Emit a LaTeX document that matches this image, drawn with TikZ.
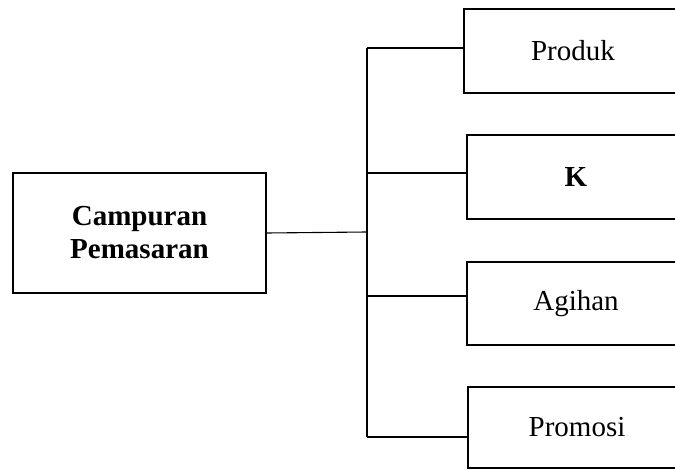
\documentclass[tikz,border=0pt]{standalone}
\usepackage{fontspec}
\setmainfont{Liberation Serif}
\begin{document}
\begin{tikzpicture}[x=1pt,y=-1pt,
  box/.style={draw, line width=1.8pt, rectangle, inner sep=0pt, align=center,
    font=\fontsize{29}{33}\selectfont},
  conn/.style={line width=1.1pt}]
\useasboundingbox (0,0) rectangle (675,470);
\clip (0,0) rectangle (675,470);
\node[box, minimum width=253, minimum height=120, font=\fontsize{29}{33}\selectfont\bfseries] (main) at (139.5,233) {Campuran\\Pemasaran};
\node[box, minimum width=218, minimum height=84] (produk) at (573,51) {Produk};
\node[box, minimum width=218, minimum height=84, font=\fontsize{29}{33}\selectfont\bfseries] (k) at (576,177) {K};
\node[box, minimum width=218, minimum height=83] (agihan) at (576,303.5) {Agihan};
\node[box, minimum width=218, minimum height=81] (promosi) at (577,427.5) {Promosi};
\coordinate (b1) at (367,48);
\coordinate (b2) at (367,173);
\coordinate (bm) at (367,232);
\coordinate (b3) at (367,296);
\coordinate (b4) at (367,437);
\draw[conn] (b1) -- (b4);
\draw[conn] (main.east) -- (bm);
\draw[conn] (b1) -- (produk.west |- b1);
\draw[conn] (b2) -- (k.west |- b2);
\draw[conn] (b3) -- (agihan.west |- b3);
\draw[conn] (b4) -- (promosi.west |- b4);
\end{tikzpicture}
\end{document}
